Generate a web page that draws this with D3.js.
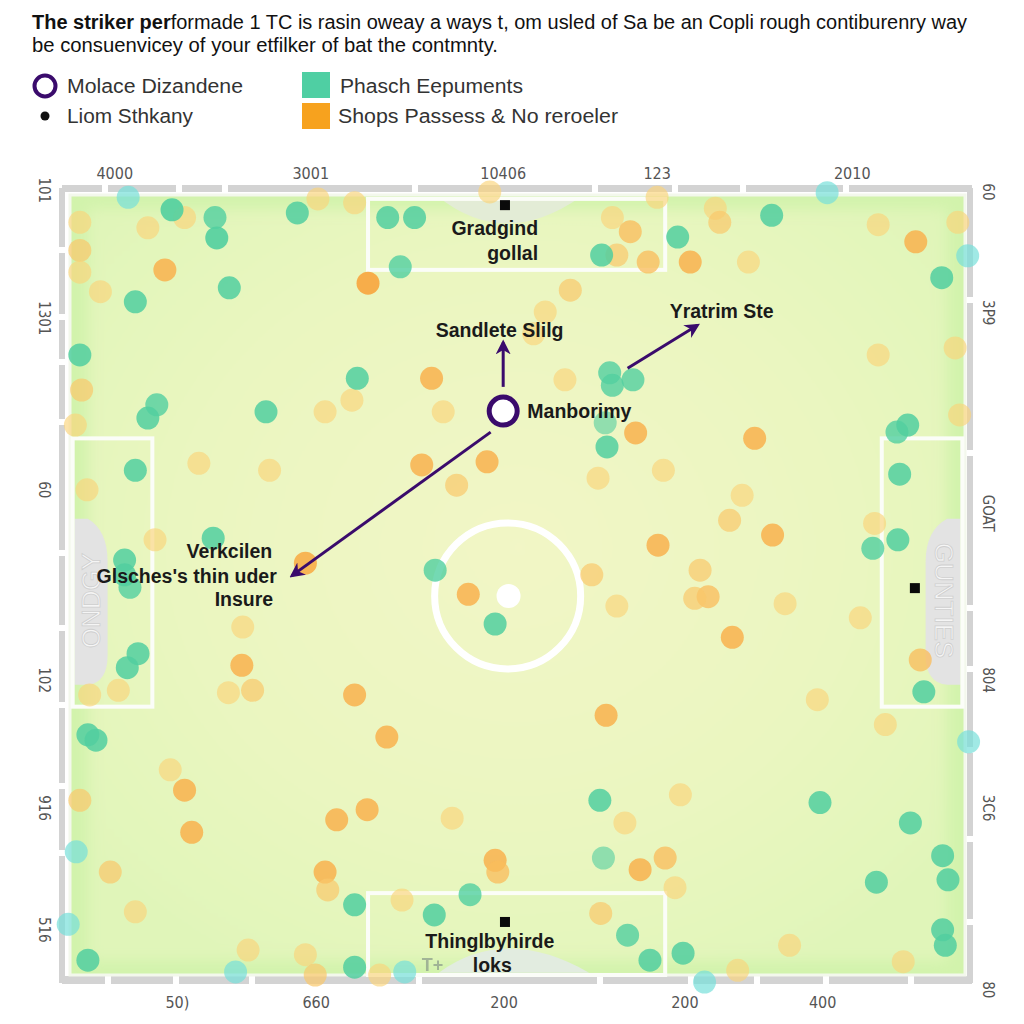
<!DOCTYPE html>
<html><head><meta charset="utf-8">
<script src="https://cdn.jsdelivr.net/npm/d3@7"></script>
<style>
body{margin:0;background:#fff}
text{font-family:"Liberation Sans",Arial,Helvetica,sans-serif}
</style>
</head><body>
<svg id="c" width="1024" height="1024"></svg>
<script>
// ---------- DATA ----------
const titleLine1Bold = "The striker per";
const titleLine1Rest = "formade 1 TC is rasin oweay a ways t, om usled of Sa be an Copli rough contiburenry way";
const titleLine2 = "be consuenvicey of your etfilker of bat the contmnty.";

const legendLeft = ["Molace Dizandene", "Liom Sthkany"];
const legendRight = ["Phasch Eepuments", "Shops Passess & No reroeler"];

const topTickLabels = ["4000", "3001", "10406", "123", "2010"];
const topTickPos = [5.0, 26.9, 48.4, 65.6, 87.4];
const bottomTickLabels = ["50)", "660", "200", "200", "400"];
const bottomTickPos = [12.0, 27.5, 48.5, 68.7, 84.1];
const leftTickLabels = ["101", "1301", "60", "102", "916", "516"];
const leftTickPos = [-0.6, 15.8, 37.8, 62.2, 78.6, 94.2];
const rightTickLabels = ["60", "3P9", "GOAT", "804", "3C6", "80"];
const rightTickPos = [-0.4, 15.1, 40.8, 62.2, 78.6, 101.9];

// [x, y, intensity] on a 0-100 pitch grid
const tealEvents = [
 [11.4,1.9,.9],[16.2,2.9,.8],[16.4,5.5,.9],[25.4,2.3,.85],[35.5,2.9,.85],[38.5,2.9,.85],[36.9,9.2,.8],
 [59.4,7.7,.85],[67.9,5.4,.85],[78.4,2.6,.85],[97.4,10.6,.85],[17.8,11.9,.85],[7.3,13.7,.85],[1.1,20.5,.85],
 [32.1,23.5,.85],[21.9,27.8,.85],[8.7,28.6,.85],[9.7,26.9,.8],[60.3,22.8,.8],[60.6,24.4,.8],[62.9,23.7,.8],
 [59.8,29.2,.6],[93.6,29.5,.85],[92.4,30.4,.8],[7.3,35.3,.85],[60.0,32.3,.85],[92.7,35.8,.85],[16.0,44.0,.85],
 [89.7,45.3,.8],[92.5,44.2,.85],[6.1,46.8,.85],[6.1,48.7,.85],[6.7,50.3,.8],[40.8,48.1,.8],[47.5,55.0,.85],
 [7.6,58.8,.85],[6.4,60.6,.85],[95.4,63.7,.85],[2.0,69.2,.85],[2.9,69.9,.85],[59.2,77.6,.85],[83.8,77.9,.85],
 [93.9,80.5,.85],[59.6,85.0,.6],[31.8,91.0,.85],[40.7,92.3,.85],[44.7,89.7,.8],[2.0,98.1,.85],[31.8,99.0,.85],
 [62.3,94.9,.8],[64.8,98.1,.85],[68.5,97.2,.85],[97.5,94.2,.85],[97.8,96.2,.85],[90.1,88.1,.85],[97.5,84.7,.85],
 [98.1,87.8,.85]
];
const cyanEvents = [
 [6.5,0.3,.7],[84.6,-0.3,.7],[100.3,7.8,.7],[100.4,70.1,.7],[0.7,84.2,.7],[-0.2,93.5,.7],[18.5,99.6,.7],
 [37.4,99.6,.7],[70.9,100.9,.7]
];
const orangeEvents = [
 [8.7,4.2,.5],[12.8,2.9,.5],[1.1,3.5,.5],[1.1,7.1,.6],[27.7,0.5,.5],[31.8,1.0,.5],[33.3,11.3,.9],[46.9,-0.4,.5],
 [60.6,2.9,.5],[62.6,4.7,.7],[61.1,7.7,.6],[64.6,8.6,.7],[65.6,0.3,.5],[69.3,8.6,.8],[72.1,1.7,.5],[72.6,3.5,.6],
 [75.8,8.6,.5],[90.3,3.8,.5],[94.5,6.0,.8],[99.2,3.5,.5],[10.6,9.6,.8],[1.1,9.9,.5],[55.9,12.2,.6],[53.1,15.0,.5],
 [51.8,17.8,.5],[90.3,20.5,.5],[98.9,19.6,.5],[31.5,26.3,.5],[28.5,27.8,.5],[1.3,25.0,.6],[40.4,23.5,.8],
 [41.7,27.8,.5],[63.2,30.5,.8],[99.4,28.2,.5],[76.5,31.2,.8],[14.4,34.4,.5],[22.3,35.3,.5],[39.3,34.6,.8],
 [46.6,34.2,.8],[43.2,37.2,.6],[59.0,36.3,.5],[66.3,35.3,.5],[75.1,38.5,.5],[73.7,41.7,.6],[89.9,42.1,.5],
 [1.9,37.8,.5],[9.5,44.2,.5],[78.5,43.6,.8],[26.3,47.2,.85],[19.3,55.4,.5],[65.7,44.9,.8],[44.5,51.2,.8],
 [58.3,48.7,.6],[70.4,48.1,.6],[71.3,51.5,.7],[69.8,51.7,.6],[61.1,52.7,.5],[79.9,52.4,.5],[88.3,54.2,.5],
 [74.0,56.7,.8],[19.2,60.3,.8],[2.2,64.1,.5],[5.4,63.5,.5],[17.7,63.8,.5],[20.4,63.5,.6],[31.8,64.1,.8],
 [59.9,66.7,.8],[35.4,69.5,.8],[95.0,59.6,.7],[91.1,67.9,.5],[83.5,64.7,.5],[11.2,73.7,.5],[12.8,76.3,.8],
 [1.1,77.6,.6],[13.6,81.7,.8],[29.8,80.1,.8],[33.2,78.8,.8],[42.7,79.9,.5],[62.0,80.5,.5],[68.2,76.9,.5],
 [4.5,86.8,.6],[47.5,85.3,.8],[47.8,86.8,.7],[63.7,86.5,.8],[66.5,85.0,.7],[67.6,88.8,.5],[28.5,86.8,.8],
 [28.8,89.1,.6],[37.1,90.4,.5],[7.3,91.9,.5],[19.9,96.8,.5],[26.3,97.4,.5],[27.4,100,.6],[34.6,100,.5],
 [59.3,92.1,.6],[74.6,99.4,.5],[93.1,98.3,.5],[80.4,96.2,.5],[55.3,23.7,.5],[3.4,12.4,.5],[0.6,29.5,.5]
];

const strikerPos = [48.4, 27.7];
const ballMarkers = [[48.6, 1.3], [48.6, 93.2], [94.4, 50.4]];
const arrowsFrom = [[48.4, 24.6], [62.3, 22.2], [47.0, 30.4]];
const arrowsTo = [[48.4, 18.9], [70.1, 16.7], [24.8, 48.8]];
const annotationText = ["Gradgind", "gollal", "Sandlete Slilg", "Yratrim Ste", "Manborimy",
  "Verkcilen", "Glsches's thin uder", "Insure", "Thinglbyhirde", "loks"];
const annotationPos = [[52.3,4.2],[52.3,7.4],[48.0,17.3],[67.0,14.9],[51.1,27.7],
  [22.6,45.6],[23.1,48.8],[22.7,51.8],[39.7,95.6],[45.0,98.7]];
const annotationAnchor = ["end","end","middle","start","start","end","end","end","start","start"];

// ---------- DRAW ----------
const svg = d3.select("#c");
const x = d3.scaleLinear().domain([0, 100]).range([70, 965]);
const y = d3.scaleLinear().domain([0, 100]).range([195, 975]);
const PURPLE = "#3a0b6c";

const defs = svg.append("defs");
const rg = defs.append("radialGradient").attr("id","field").attr("cx","50%").attr("cy","45%").attr("r","65%");
rg.append("stop").attr("offset","0%").attr("stop-color","#f2f6c6");
rg.append("stop").attr("offset","60%").attr("stop-color","#eaf6c0");
rg.append("stop").attr("offset","100%").attr("stop-color","#e0f5b9");
const blur = defs.append("filter").attr("id","soft").attr("x","-20%").attr("y","-20%").attr("width","140%").attr("height","140%");
blur.append("feGaussianBlur").attr("stdDeviation", 0.7);
const blur2 = defs.append("filter").attr("id","soft2").attr("x","-10%").attr("y","-10%").attr("width","120%").attr("height","120%");
blur2.append("feGaussianBlur").attr("stdDeviation", 7);
defs.append("marker").attr("id","ah").attr("viewBox","0 0 10 10").attr("refX",8).attr("refY",5)
  .attr("markerWidth",5).attr("markerHeight",5).attr("orient","auto")
  .append("path").attr("d","M0,0 L10,5 L0,10 L3,5 Z").attr("fill",PURPLE);

// title
const t1 = svg.append("text").attr("x",32).attr("y",29).attr("font-size",19.5).attr("fill","#111")
  .attr("textLength",935).attr("lengthAdjust","spacingAndGlyphs");
t1.append("tspan").attr("font-weight","bold").text(titleLine1Bold);
t1.append("tspan").text(titleLine1Rest);
svg.append("text").attr("x",32).attr("y",52).attr("font-size",19.5).attr("fill","#111")
  .attr("textLength",466).attr("lengthAdjust","spacingAndGlyphs").text(titleLine2);

// legend
svg.append("circle").attr("cx",45).attr("cy",86).attr("r",10.5).attr("fill","#fff").attr("stroke",PURPLE).attr("stroke-width",4);
svg.append("circle").attr("cx",45).attr("cy",116).attr("r",4.5).attr("fill","#111");
svg.append("rect").attr("x",302).attr("y",72).attr("width",28).attr("height",26).attr("fill","#4fcfa3");
svg.append("rect").attr("x",302).attr("y",103).attr("width",28).attr("height",26).attr("fill","#f7a21e");
const legLen = [176, 126, 183, 280];
legendLeft.forEach((s,i)=>svg.append("text").attr("x",67).attr("y",93+i*30).attr("font-size",20).attr("fill","#333")
  .attr("textLength",legLen[i]).attr("lengthAdjust","spacingAndGlyphs").text(s));
legendRight.forEach((s,i)=>svg.append("text").attr("x",i?338:340).attr("y",93+i*30).attr("font-size",20).attr("fill","#333")
  .attr("textLength",legLen[2+i]).attr("lengthAdjust","spacingAndGlyphs").text(s));

// frame
const frame = svg.append("g");
const FR = "#d3d3d3";
const topGaps = [105,179,225,415,595,675,743,846];
const botGaps = [108,176,252,419,600,691,757,826,911];
const leftGaps = [250,317,362,422,553,628,705,786,853];
const rightGaps = [300,453,608,669,750,839,922];
function hSeg(y0, gaps, x0, x1, h){
  const pts=[x0,...gaps,x1];
  for(let i=0;i<pts.length-1;i++) frame.append("rect").attr("x",pts[i]+(i?3:0)).attr("y",y0).attr("width",pts[i+1]-pts[i]-(i?3:0)-(i<pts.length-2?3:0)).attr("height",h).attr("fill",FR);
}
function vSeg(x0, gaps, y0, y1, w){
  const pts=[y0,...gaps,y1];
  for(let i=0;i<pts.length-1;i++) frame.append("rect").attr("x",x0).attr("y",pts[i]+(i?3:0)).attr("width",w).attr("height",pts[i+1]-pts[i]-(i?3:0)-(i<pts.length-2?3:0)).attr("fill",FR);
}
hSeg(185, topGaps, 62, 972, 7);
hSeg(976, botGaps, 62, 972, 8);
vSeg(59, leftGaps, 188, 983, 6);
vSeg(967, rightGaps, 188, 983, 6);

// pitch field
svg.append("rect").attr("x",x(0)).attr("y",y(0)).attr("width",x(100)-x(0)).attr("height",y(100)-y(0)).attr("fill","#d2f3ac");
svg.append("rect").attr("x",x(0)+18).attr("y",y(0)+14).attr("width",x(100)-x(0)-36).attr("height",y(100)-y(0)-28)
  .attr("fill","url(#field)").attr("filter","url(#soft2)");
svg.append("rect").attr("x",x(0)).attr("y",y(0)).attr("width",x(100)-x(0)).attr("height",y(100)-y(0))
  .attr("fill","none").attr("stroke","#f3f8ec").attr("stroke-width",3);

// goal-area shading
svg.append("path").attr("d",`M${x(41.2)},${y(0.3)} Q${x(48.6)},${y(7)} ${x(57.0)},${y(0.3)} Z`).attr("fill","#e3ecd6");
svg.append("path").attr("d",`M${x(41.2)},${y(99.7)} Q${x(48.6)},${y(93.5)} ${x(58.0)},${y(99.7)} Z`).attr("fill","#e2ece0");
// side grey shapes
svg.append("path").attr("d",`M${x(0.5)},${y(41.5)} L${x(2)},${y(41.5)} Q${x(4.2)},${y(43)} ${x(4.2)},${y(47)} L${x(4.2)},${y(59)} Q${x(4.2)},${y(62.5)} ${x(2)},${y(62.8)} L${x(0.5)},${y(62.8)} Z`).attr("fill","#e3e3e3");
svg.append("path").attr("d",`M${x(99.5)},${y(41.5)} L${x(98)},${y(41.5)} Q${x(95.6)},${y(43)} ${x(95.6)},${y(47)} L${x(95.6)},${y(59)} Q${x(95.6)},${y(62.5)} ${x(98)},${y(62.8)} L${x(99.5)},${y(62.8)} Z`).attr("fill","#e3e3e3");
svg.append("text").attr("transform",`translate(${x(2.3)},${y(52)}) rotate(-90)`).attr("text-anchor","middle").attr("dominant-baseline","central")
  .attr("font-size",26).attr("fill","#f5f5f5").attr("stroke","#cfcfcf").attr("stroke-width",0.8).text("ONDGY");
svg.append("text").attr("transform",`translate(${x(97.7)},${y(52)}) rotate(90)`).attr("text-anchor","middle").attr("dominant-baseline","central")
  .attr("font-size",26).attr("fill","#f5f5f5").attr("stroke","#cfcfcf").attr("stroke-width",0.8).text("GUNTIES");

// pitch lines
const lines = svg.append("g").attr("fill","none").attr("stroke","#fbfdf8").attr("stroke-width",4);
lines.append("rect").attr("x",x(33.3)).attr("y",y(0.5)).attr("width",x(66.5)-x(33.3)).attr("height",y(9.6)-y(0.5));
lines.append("rect").attr("x",x(33.3)).attr("y",y(89.5)).attr("width",x(66.5)-x(33.3)).attr("height",y(100)-y(89.5));
lines.append("rect").attr("x",x(0.3)).attr("y",y(31.2)).attr("width",x(9.2)-x(0.3)).attr("height",y(65.6)-y(31.2));
lines.append("rect").attr("x",x(90.7)).attr("y",y(31.2)).attr("width",x(99.7)-x(90.7)).attr("height",y(65.6)-y(31.2));
svg.append("circle").attr("cx",x(48.9)).attr("cy",y(51.4)).attr("r",73).attr("fill","none").attr("stroke","#ffffff").attr("stroke-width",7);
svg.append("circle").attr("cx",x(49.0)).attr("cy",y(51.4)).attr("r",12).attr("fill","#ffffff");

// events
const dots = svg.append("g").attr("filter","url(#soft)");
dots.selectAll(".o").data(orangeEvents).join("circle").attr("class","o")
  .attr("cx",d=>x(d[0])).attr("cy",d=>y(d[1])).attr("r",11.5)
  .attr("fill",d=>d3.interpolateRgb("#fbd47a","#f8a43c")((d[2]-0.5)/0.4)).attr("fill-opacity",d=>0.35+d[2]*0.6);
dots.selectAll(".t").data(tealEvents).join("circle").attr("class","t")
  .attr("cx",d=>x(d[0])).attr("cy",d=>y(d[1])).attr("r",11.5)
  .attr("fill","#52cfa0").attr("fill-opacity",d=>d[2]);
dots.selectAll(".c").data(cyanEvents).join("circle").attr("class","c")
  .attr("cx",d=>x(d[0])).attr("cy",d=>y(d[1])).attr("r",11.5)
  .attr("fill","#78e0da").attr("fill-opacity",d=>d[2]);

// ball markers
svg.selectAll(".b").data(ballMarkers).join("rect").attr("class","b")
  .attr("x",d=>x(d[0])-5).attr("y",d=>y(d[1])-5).attr("width",10).attr("height",10).attr("fill","#0a0a0a");

// arrows
svg.selectAll(".ar").data(arrowsFrom).join("line").attr("class","ar")
  .attr("x1",d=>x(d[0])).attr("y1",d=>y(d[1]))
  .attr("x2",(d,i)=>x(arrowsTo[i][0])).attr("y2",(d,i)=>y(arrowsTo[i][1]))
  .attr("stroke",PURPLE).attr("stroke-width",3).attr("marker-end","url(#ah)");

// striker
svg.append("circle").attr("cx",x(strikerPos[0])).attr("cy",y(strikerPos[1])).attr("r",14)
  .attr("fill","#fff").attr("stroke",PURPLE).attr("stroke-width",5);

// annotations
svg.selectAll(".an").data(annotationText).join("text").attr("class","an")
  .attr("x",(d,i)=>x(annotationPos[i][0])).attr("y",(d,i)=>y(annotationPos[i][1]))
  .attr("text-anchor",(d,i)=>annotationAnchor[i]).attr("dominant-baseline","central")
  .attr("font-size",19.5).attr("font-weight","bold").attr("fill","#1a1a1a").text(d=>d);
svg.append("text").attr("x",x(39.3)).attr("y",y(98.7)).attr("dominant-baseline","central")
  .attr("font-size",18).attr("font-weight","bold").attr("fill","#8a9a8a").attr("opacity",0.7).text("T+");

// tick labels
const TKF = '"Liberation Sans Narrow","DejaVu Sans Condensed",Arial,sans-serif';
svg.selectAll(".tt").data(topTickLabels).join("text").attr("class","tt")
  .attr("x",(d,i)=>x(topTickPos[i])).attr("y",179).attr("text-anchor","middle").style("font-family",TKF)
  .attr("font-size",16).attr("fill","#555").text(d=>d);
svg.selectAll(".bt").data(bottomTickLabels).join("text").attr("class","bt")
  .attr("x",(d,i)=>x(bottomTickPos[i])).attr("y",1008).attr("text-anchor","middle").style("font-family",TKF)
  .attr("font-size",16).attr("fill","#555").text(d=>d);
svg.selectAll(".lt").data(leftTickLabels).join("text").attr("class","lt")
  .attr("transform",(d,i)=>`translate(44,${y(leftTickPos[i])}) rotate(90)`).attr("text-anchor","middle").style("font-family",TKF)
  .attr("dominant-baseline","central").attr("font-size",15).attr("fill","#555").text(d=>d);
svg.selectAll(".rt").data(rightTickLabels).join("text").attr("class","rt")
  .attr("transform",(d,i)=>`translate(988,${y(rightTickPos[i])}) rotate(90)`).attr("text-anchor","middle").style("font-family",TKF)
  .attr("dominant-baseline","central").attr("font-size",15).attr("fill","#555").text(d=>d);
</script>
</body></html>
